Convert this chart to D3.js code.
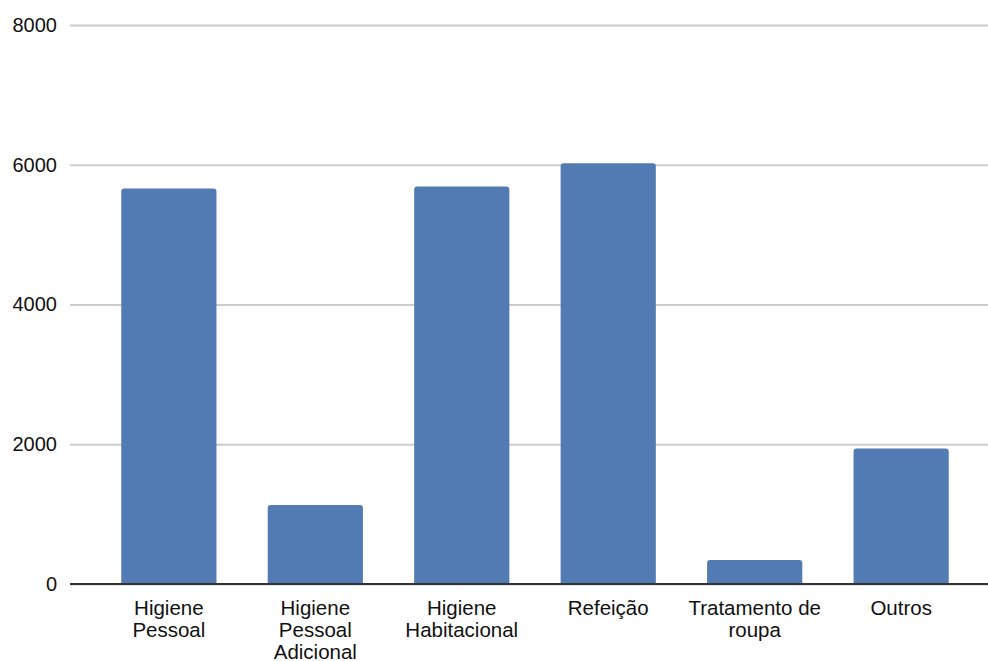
<!DOCTYPE html>
<html>
<head>
<meta charset="utf-8">
<script src="https://cdn.jsdelivr.net/npm/d3@7"></script>
<style>
  html, body { margin: 0; padding: 0; background: #fff; }
  svg { display: block; font-family: "Liberation Sans", Arial, Helvetica, sans-serif; }
</style>
</head>
<body>
<svg id="chart" width="988" height="661"></svg>
<script>
// Categories and their values
const categories = [
  "Higiene Pessoal",
  "Higiene Pessoal Adicional",
  "Higiene Habitacional",
  "Refeição",
  "Tratamento de roupa",
  "Outros"
];
const values = [5660, 1130, 5690, 6020, 343, 1940];
const yTicks = [0, 2000, 4000, 6000, 8000];

const svg = d3.select("#chart");
const plot = { left: 70, right: 1000, top: 25, bottom: 584 };
const barColor = "#537bb3";

const x = d3.scaleBand()
  .domain(categories)
  .range([plot.left, plot.right])
  .paddingInner(0.35)
  .paddingOuter(0.35);

const y = d3.scaleLinear()
  .domain([0, 8000])
  .range([plot.bottom, plot.top]);

// Horizontal gridlines with tick labels
const yAxis = d3.axisLeft(y)
  .tickValues(yTicks)
  .tickFormat(d3.format("d"))
  .tickSize(-(plot.right - plot.left))
  .tickPadding(13);

const gy = svg.append("g")
  .attr("transform", `translate(${plot.left},0)`)
  .call(yAxis);
gy.select(".domain").remove();
gy.selectAll(".tick line")
  .attr("stroke", "#cccccc")
  .attr("stroke-width", 2);
gy.selectAll(".tick text")
  .attr("fill", "#111")
  .style("font-size", "20px");

// Bars with slightly rounded top corners
const r = 3;
function barPath(d, i) {
  const x0 = x(d), w = x.bandwidth();
  const yTop = y(values[i]), yBot = y(0);
  return `M${x0},${yBot}V${yTop + r}Q${x0},${yTop} ${x0 + r},${yTop}` +
         `H${x0 + w - r}Q${x0 + w},${yTop} ${x0 + w},${yTop + r}V${yBot}Z`;
}
svg.append("g")
  .selectAll("path")
  .data(categories)
  .join("path")
  .attr("d", barPath)
  .attr("fill", barColor);

// Baseline
svg.append("line")
  .attr("x1", plot.left).attr("x2", plot.right)
  .attr("y1", y(0)).attr("y2", y(0))
  .attr("stroke", "#333")
  .attr("stroke-width", 2);

// Category labels, wrapped to fit under each bar
const labelWidth = 140;
const labels = svg.append("g")
  .style("font-size", "20.5px")
  .attr("fill", "#111")
  .attr("text-anchor", "middle");

categories.forEach(c => {
  const cx = x(c) + x.bandwidth() / 2;
  const t = labels.append("text")
    .attr("x", cx)
    .attr("y", 615);
  const words = c.split(" ");
  let line = [];
  let tspan = t.append("tspan").attr("x", cx).attr("dy", 0);
  words.forEach(w => {
    line.push(w);
    tspan.text(line.join(" "));
    if (tspan.node().getComputedTextLength() > labelWidth && line.length > 1) {
      line.pop();
      tspan.text(line.join(" "));
      line = [w];
      tspan = t.append("tspan")
        .attr("x", cx)
        .attr("dy", 22)
        .text(w);
    }
  });
});
</script>
</body>
</html>
